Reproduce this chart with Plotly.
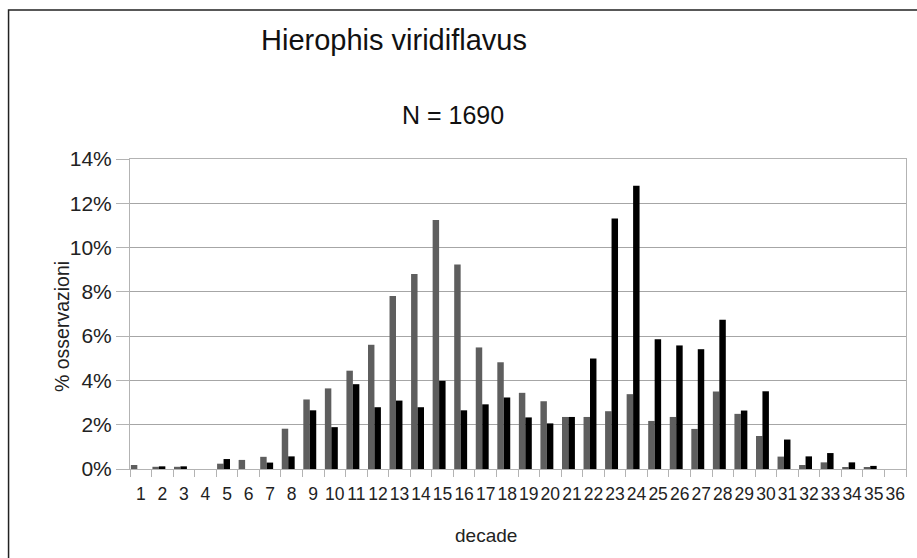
import plotly.graph_objects as go

# Decades (categories on the x axis)
decades = [str(d) for d in range(1, 37)]

# Share of observations per decade (%), two series
serie_grigia = [0.18, 0.10, 0.10, 0.0, 0.24, 0.41, 0.55, 1.82, 3.14, 3.64,
                4.44, 5.61, 7.81, 8.81, 11.25, 9.24, 5.49, 4.82, 3.44, 3.06,
                2.35, 2.35, 2.61, 3.38, 2.17, 2.35, 1.81, 3.50, 2.49, 1.49,
                0.56, 0.18, 0.30, 0.06, 0.06, 0.0]
serie_nera = [0.0, 0.12, 0.12, 0.0, 0.45, 0.0, 0.29, 0.57, 2.65, 1.89,
              3.83, 2.79, 3.09, 2.79, 3.98, 2.65, 2.92, 3.23, 2.33, 2.06,
              2.35, 4.99, 11.31, 12.79, 5.86, 5.58, 5.41, 6.74, 2.64, 3.51,
              1.33, 0.57, 0.72, 0.30, 0.14, 0.0]

y_ticks = [0, 0.02, 0.04, 0.06, 0.08, 0.10, 0.12, 0.14]

FONT = "Liberation Sans, Arial, sans-serif"

fig = go.Figure()
fig.add_trace(go.Bar(x=decades, y=[v / 100 for v in serie_grigia],
                     marker=dict(color="#5e5e5e", line=dict(width=0)),
                     width=0.3, offset=-0.46))
fig.add_trace(go.Bar(x=decades, y=[v / 100 for v in serie_nera],
                     marker=dict(color="#000000", line=dict(width=0)),
                     width=0.3, offset=-0.16))

fig.update_layout(
    width=917, height=558,
    margin=dict(l=130, r=11, t=159, b=89),
    paper_bgcolor="white", plot_bgcolor="white",
    barmode="overlay", showlegend=False,
    font=dict(family=FONT, color="#222222"),
    xaxis=dict(type="category", tickson="boundaries", ticks="outside",
               ticklen=7, tickcolor="#b3b3b3", showgrid=False, tickangle=0,
               showline=True, linecolor="#b3b3b3", linewidth=1, mirror=True,
               tickfont=dict(size=17.5, family=FONT, color="#222222"),
               ticklabelstandoff=9),
    yaxis=dict(range=[0, 0.14], tickvals=y_ticks, tickformat=".0%",
               ticks="outside", ticklen=13, tickcolor="#b3b3b3",
               showgrid=True, gridcolor="#a6a6a6", gridwidth=1,
               showline=True, linecolor="#b3b3b3", linewidth=1, mirror=True,
               zeroline=False,
               tickfont=dict(size=21, family=FONT, color="#222222")),
    annotations=[
        dict(text="Hierophis viridiflavus", x=0.340, y=1.384, xref="paper", yref="paper",
             showarrow=False, xanchor="center", yanchor="middle",
             font=dict(size=29, family=FONT, color="#111111")),
        dict(text="N = 1690", x=0.4156, y=1.142, xref="paper", yref="paper",
             showarrow=False, xanchor="center", yanchor="middle",
             font=dict(size=25, family=FONT, color="#111111")),
        dict(text="% osservazioni", x=-0.0876, y=0.458, xref="paper", yref="paper",
             showarrow=False, xanchor="center", yanchor="middle", textangle=-90,
             font=dict(size=19.5, family=FONT, color="#222222")),
        dict(text="decade", x=0.459, y=-0.216, xref="paper", yref="paper",
             showarrow=False, xanchor="center", yanchor="middle",
             font=dict(size=19, family=FONT, color="#222222")),
    ],
    shapes=[
        dict(type="rect", xref="paper", yref="paper",
             x0=-0.1565, x1=1.03, y0=-0.35, y1=1.4806,
             line=dict(color="#222222", width=1.5), layer="above"),
    ],
)

fig.write_html("out.html")
